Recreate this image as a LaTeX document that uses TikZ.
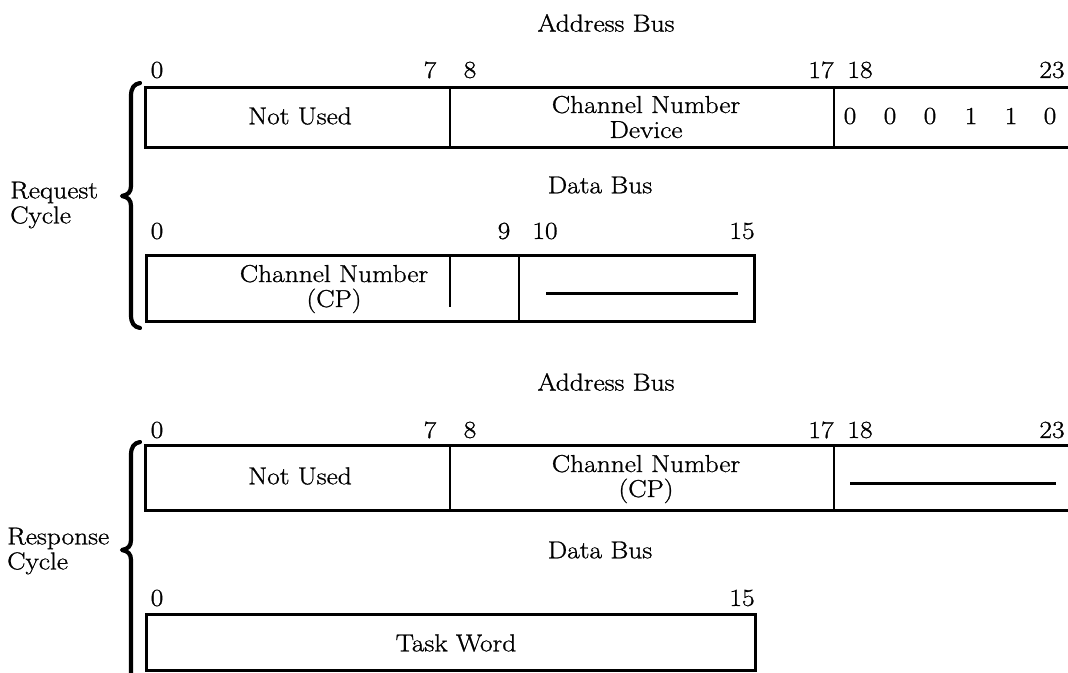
\documentclass[tikz,border=0pt]{standalone}
\usepackage{fontspec}
\setmainfont{Latin Modern Roman}[FakeStretch=1.12,FakeBold=1]
\newcommand\cbrace[3]{%
  \draw[bracepath] (140,#1) .. controls (134,#1+1) and (131,#1+5) .. (131,#1+13)
    -- (131,#2-10) .. controls (131,#2-4) and (128,#2-1) .. (122,#2)
    .. controls (128,#2+1) and (131,#2+4) .. (131,#2+10)
    -- (131,#3-13) .. controls (131,#3-5) and (134,#3-1) .. (140,#3);}
\begin{document}
\begin{tikzpicture}[x=1pt,y=-1pt,
  lbl/.style={inner sep=0pt, font=\fontsize{24.5}{25}\selectfont, align=center},
  side/.style={lbl, align=left, anchor=west},
  field/.style={line width=3pt},
  sep/.style={line width=2.4pt},
  thinsep/.style={line width=1.8pt},
  blank/.style={line width=3pt},
  bracepath/.style={line width=4.2pt, line cap=round, line join=round}]
\useasboundingbox (0,0) rectangle (1068,672);
\clip (0,0) rectangle (1068,672);

% ---------------- Request cycle ----------------
\node[lbl] (ab1) at (606,23) {Address Bus};
\node[lbl] (a1b0) at (157,70) {0};
\node[lbl] (a1b7) at (430,70) {7};
\node[lbl] (a1b8) at (470,70) {8};
\node[lbl] (a1b17) at (821,70) {17};
\node[lbl] (a1b18) at (860,70) {18};
\node[lbl] (a1b23) at (1052,70) {23};

\draw[field] (145,87) rectangle (1070,147);
\draw[sep] (450,87) -- (450,147);
\draw[sep] (834,87) -- (834,147);
\node[lbl] (nu1) at (300,116) {Not Used};
\node[lbl] (cnd) at (646,117) {Channel Number\\Device};
\foreach \x/\v [count=\i] in {850/0,890/0,930/0,971/1,1011/1,1050/0}
  \node[lbl] (code\i) at (\x,116) {\v};

\node[lbl] (db1) at (600,185) {Data Bus};
\node[lbl] (d1b0) at (157,231) {0};
\node[lbl] (d1b9) at (504,231) {9};
\node[lbl] (d1b10) at (545,231) {10};
\node[lbl] (d1b15) at (742,231) {15};

\draw[field] (146,255) rectangle (754,321);
\draw[thinsep] (450,255) -- (450,307);
\draw[sep] (519,255) -- (519,321);
\node[lbl] (cncp1) at (334,289) {Channel Number\\(CP)};
\draw[blank] (546,293) -- (738,293);

\cbrace{83}{196}{328}
\node[side] (req) at (10,205) {Request\\Cycle};

% ---------------- Response cycle ----------------
\node[lbl] (ab2) at (606,382) {Address Bus};
\node[lbl] (a2b0) at (157,430) {0};
\node[lbl] (a2b7) at (430,430) {7};
\node[lbl] (a2b8) at (470,430) {8};
\node[lbl] (a2b17) at (821,430) {17};
\node[lbl] (a2b18) at (860,430) {18};
\node[lbl] (a2b23) at (1052,430) {23};

\draw[field] (145,445) rectangle (1070,510);
\draw[sep] (450,445) -- (450,510);
\draw[sep] (834,445) -- (834,510);
\node[lbl] (nu2) at (300,476) {Not Used};
\node[lbl] (cncp2) at (646,479) {Channel Number\\(CP)};
\draw[blank] (850,483) -- (1056,483);

\node[lbl] (db2) at (600,550) {Data Bus};
\node[lbl] (d2b0) at (157,598) {0};
\node[lbl] (d2b15) at (742,598) {15};

\draw[field] (146,614) rectangle (755,670);
\node[lbl] (tw) at (456,643) {Task Word};

\cbrace{442}{550}{700}
\node[side] (resp) at (7,551) {Response\\Cycle};
\end{tikzpicture}
\end{document}
